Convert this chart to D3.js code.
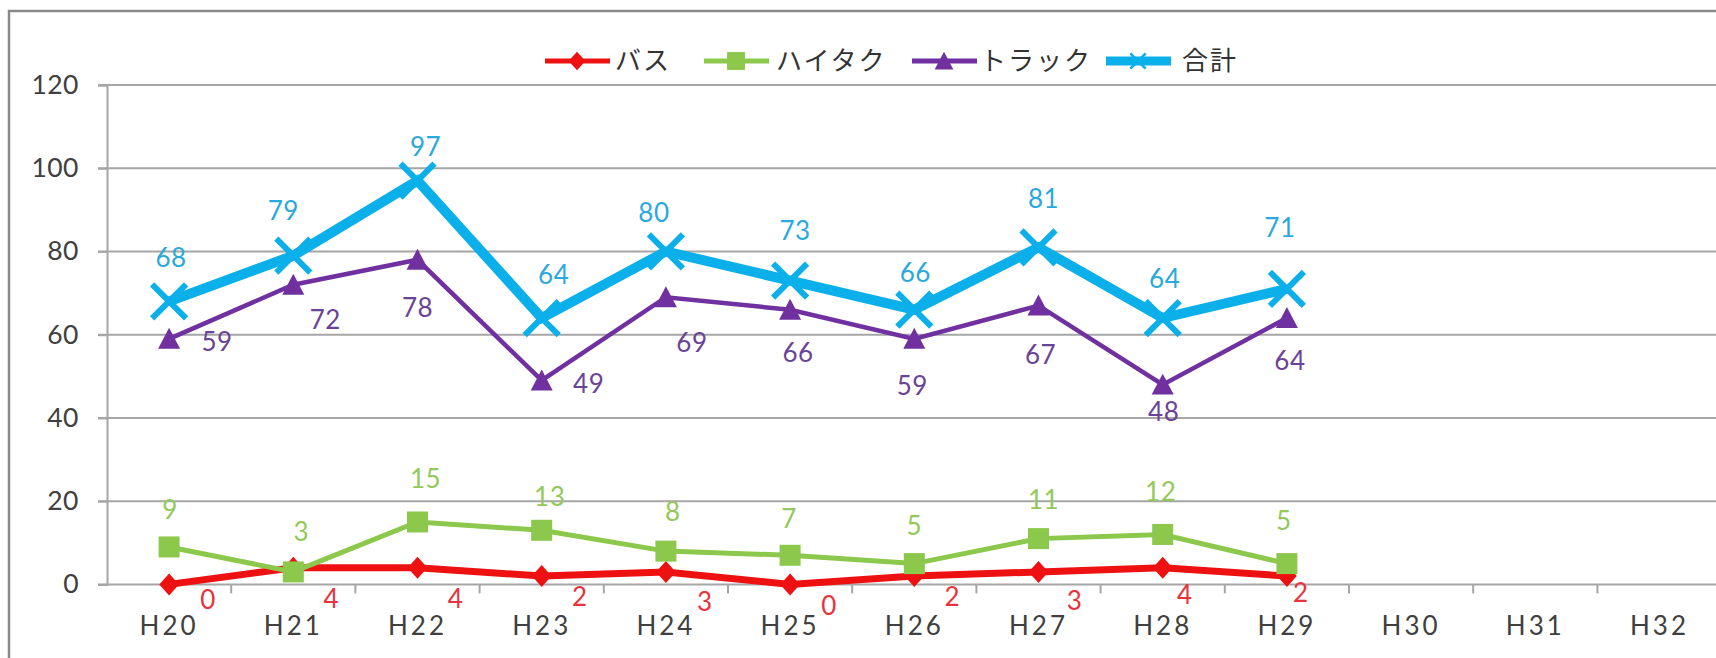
<!DOCTYPE html>
<html>
<head>
<meta charset="utf-8">
<script src="https://cdn.jsdelivr.net/npm/d3@7"></script>
<style>
  html, body { margin: 0; padding: 0; background: #fff; }
  svg { display: block; }
  text { font-family: Lato, "Open Sans", sans-serif; }
  .jp { font-family: "Noto Sans CJK JP", sans-serif; }
</style>
</head>
<body>
<svg id="chart" width="1716" height="658"></svg>
<script>
// ---- data ----
const categories = ["H20","H21","H22","H23","H24","H25","H26","H27","H28","H29","H30","H31","H32"];
const seriesNames = ["バス","ハイタク","トラック","合計"];
const busValues    = [0, 4, 4, 2, 3, 0, 2, 3, 4, 2];
const haitakuValues = [9, 3, 15, 13, 8, 7, 5, 11, 12, 5];
const truckValues  = [59, 72, 78, 49, 69, 66, 59, 67, 48, 64];
const totalValues  = [68, 79, 97, 64, 80, 73, 66, 81, 64, 71];
const yTicks = [0, 20, 40, 60, 80, 100, 120];

// label offsets (pixels, relative to each point)
const busLabelOffsets     = [[39,15],[38,31],[38,31],[38,21],[39,30],[39,21],[38,21],[36,29],[22,27],[14,17]];
const haitakuLabelOffsets = [[1,-37],[8,-40],[8,-43],[8,-34],[7,-39],[-1,-37],[0,-38],[5,-39],[-2,-43],[-3,-43]];
const truckLabelOffsets   = [[48,3],[32,35],[0,48],[47,3],[26,45],[8,43],[-2,47],[2,49],[1,27],[3,43]];
const totalLabelOffsets   = [[2,-44],[-10,-45],[8,-34],[12,-43],[-12,-39],[5,-50],[1,-37],[5,-49],[2,-39],[-7,-61]];
// legend anchor positions (line start, text start)
const legendLineStarts = [545, 704, 912, 1106];
const legendTextStarts = [615, 776, 980, 1182];

// ---- layout ----
const svg = d3.select("#chart");
const W = 1716, H = 658;
const plotLeft = 107, plotTop = 85, plotBottom = 584.4;
const band = 124.2;

const x = d3.scaleBand().domain(categories).range([plotLeft, plotLeft + band * categories.length]).padding(0);
const y = d3.scaleLinear().domain([0, 120]).range([plotBottom, plotTop]);
const cx = c => x(c) + x.bandwidth() / 2;

// outer border (left + top)
svg.append("path")
  .attr("d", `M9,${H} L9,11 L${W},11`)
  .attr("fill", "none").attr("stroke", "#8a8a8a").attr("stroke-width", 2.5);

// gridlines
svg.append("g").selectAll("line").data(yTicks).join("line")
  .attr("x1", plotLeft - 9).attr("x2", W)
  .attr("y1", d => y(d)).attr("y2", d => y(d))
  .attr("stroke", "#a6a6a6").attr("stroke-width", 2);

// y axis
const yAxis = svg.append("g").attr("transform", `translate(${plotLeft},0)`)
  .call(d3.axisLeft(y).tickValues(yTicks).tickSize(9).tickPadding(19).tickFormat(d3.format("d")));
yAxis.select(".domain").attr("stroke", "#a6a6a6").attr("stroke-width", 2);
yAxis.selectAll(".tick line").attr("stroke", "#a6a6a6").attr("stroke-width", 2);
yAxis.selectAll("text").attr("fill", "#404040").style("font-size", "26.5px")
  .style("letter-spacing", "0.5px").style("font-family", "Lato, sans-serif");

// x axis labels
const xAxis = svg.append("g").attr("transform", `translate(0,${plotBottom})`)
  .call(d3.axisBottom(x).tickSize(0).tickPadding(32));
xAxis.select(".domain").remove();
xAxis.selectAll("text").attr("fill", "#404040").style("font-size", "26px")
  .style("letter-spacing", "3px").style("font-family", "Lato, sans-serif");

// x tick marks at category boundaries
svg.append("g").selectAll("line").data(categories).join("line")
  .attr("x1", d => x(d) + x.bandwidth()).attr("x2", d => x(d) + x.bandwidth())
  .attr("y1", plotBottom).attr("y2", plotBottom + 9)
  .attr("stroke", "#a6a6a6").attr("stroke-width", 2);

// ---- series ----
const series = [
  { name: seriesNames[0], values: busValues, color: "#ee1111", labelColor: "#e8333c", width: 7, marker: "diamond", offsets: busLabelOffsets },
  { name: seriesNames[1], values: haitakuValues, color: "#8cc84b", labelColor: "#93c95a", width: 5, marker: "square", offsets: haitakuLabelOffsets },
  { name: seriesNames[2], values: truckValues, color: "#7030a0", labelColor: "#6a4497", width: 4.5, marker: "triangle", offsets: truckLabelOffsets },
  { name: seriesNames[3], values: totalValues, color: "#0bb0ea", labelColor: "#2aa9dc", width: 10, marker: "x", offsets: totalLabelOffsets }
];

function drawMarker(g, type, color, px, py, scale) {
  const s = scale || 1;
  if (type === "diamond") {
    const r = 11 * s;
    g.append("path").attr("d", `M${px},${py - r} L${px + r * 0.9},${py} L${px},${py + r} L${px - r * 0.9},${py} Z`).attr("fill", color);
  } else if (type === "square") {
    const r = 10.5 * s;
    g.append("rect").attr("x", px - r).attr("y", py - r).attr("width", 2 * r).attr("height", 2 * r).attr("fill", color);
  } else if (type === "triangle") {
    const r = 11 * s;
    g.append("path").attr("d", `M${px},${py - r} L${px + r},${py + r * 0.9} L${px - r},${py + r * 0.9} Z`).attr("fill", color);
  } else if (type === "x") {
    const r = 17 * s;
    g.append("path").attr("d", `M${px - r},${py - r} L${px + r},${py + r} M${px - r},${py + r} L${px + r},${py - r}`)
      .attr("stroke", color).attr("stroke-width", 6 * s).attr("fill", "none");
  }
}

const line = d3.line().x(d => cx(d.c)).y(d => y(d.v));

series.forEach(s => {
  const pts = s.values.map((v, i) => ({ c: categories[i], v: v, off: s.offsets[i] }));
  const g = svg.append("g");
  g.append("path").datum(pts).attr("d", line)
    .attr("fill", "none").attr("stroke", s.color).attr("stroke-width", s.width)
    .attr("stroke-linejoin", "miter");
  pts.forEach(p => drawMarker(g, s.marker, s.color, cx(p.c), y(p.v)));
});

// labels on top
series.forEach(s => {
  const pts = s.values.map((v, i) => ({ c: categories[i], v: v, off: s.offsets[i] }));
  svg.append("g").selectAll("text").data(pts).join("text")
    .attr("x", d => cx(d.c) + d.off[0])
    .attr("y", d => y(d.v) + d.off[1])
    .attr("dy", "0.36em")
    .attr("text-anchor", "middle")
    .attr("fill", s.labelColor)
    .style("font-size", "26px")
    .style("letter-spacing", "0.5px")
    .text(d => d.v);
});

// ---- legend ----
const legend = svg.append("g");
const legY = 61;
series.forEach((s, i) => {
  const lx = legendLineStarts[i];
  legend.append("line").attr("x1", lx).attr("x2", lx + 65).attr("y1", legY).attr("y2", legY)
    .attr("stroke", s.color).attr("stroke-width", s.marker === "x" ? 9 : 5);
  if (s.marker === "x") {
    drawMarker(legend, "x", s.color, lx + 32, legY, 0.45);
  } else {
    drawMarker(legend, s.marker, s.color, lx + 32, legY, 0.85);
  }
  legend.append("text").attr("class", "jp").attr("x", legendTextStarts[i]).attr("y", legY).attr("dy", "0.36em")
    .attr("fill", "#333").style("font-size", "26px").style("letter-spacing", "2px").text(s.name);
});
</script>
</body>
</html>
